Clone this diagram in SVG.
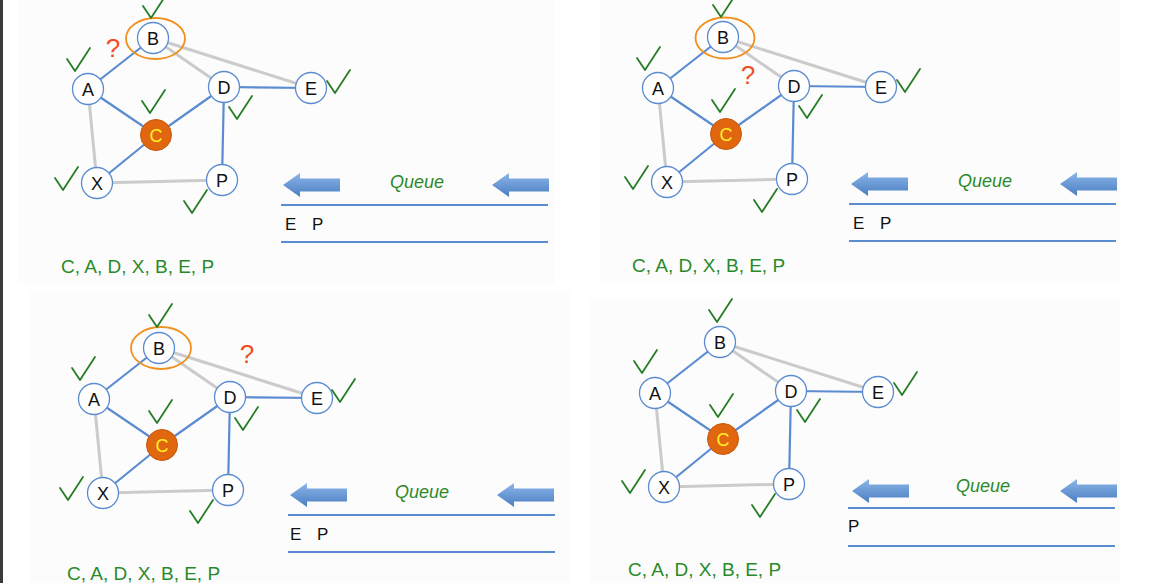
<svg xmlns="http://www.w3.org/2000/svg" xmlns:xlink="http://www.w3.org/1999/xlink" width="1152" height="583" viewBox="0 0 1152 583">
<style>
text{font-family:"Liberation Sans",Arial,sans-serif}
.nd{fill:#fff;stroke:#5b8bd0;stroke-width:1.3}
.lbl{font-size:18px;fill:#111;text-anchor:middle}
.cn{fill:#e0660f;stroke:#c8580a;stroke-width:1}
.cl{font-size:18px;fill:#ffef2a;text-anchor:middle}
.eb{stroke:#5b8bd0;stroke-width:2.2;fill:none}
.eg{stroke:#cbcbcb;stroke-width:3;fill:none}
.chk{fill:none;stroke:#267d26;stroke-width:1.8;stroke-linecap:round;stroke-linejoin:round}
.q{font-size:18px;font-style:italic;fill:#2a8a2a;text-anchor:middle}
.ql{stroke:#5b8bd0;stroke-width:2}
.ord{font-size:19px;fill:#2a8a2a}
.ep{font-size:17px;fill:#111;word-spacing:11px}
.qm{font-size:26px;fill:#f04e23;text-anchor:middle}
.ring{fill:none;stroke:#f0901e;stroke-width:1.8}
.bg{fill:#fcfcfc}
</style>
<defs>
<linearGradient id="ag" x1="0" y1="0" x2="0" y2="1">
<stop offset="0" stop-color="#8cb6ea"/>
<stop offset="1" stop-color="#4a7dc0"/>
</linearGradient>
<path id="arr" d="M0,0 L17,-12 L17,-6.5 L57,-6.5 L57,6.5 L17,6.5 L17,12 Z" fill="url(#ag)"/>
<path id="ck" class="chk" d="M-8,-12 L0,0 L15,-23"/>
</defs>
<rect width="1152" height="583" fill="#fff"/>
<rect class="bg" x="18" y="0" width="537" height="283"/>
<rect class="bg" x="600" y="0" width="520" height="281"/>
<rect class="bg" x="30" y="292" width="540" height="291"/>
<rect class="bg" x="590" y="300" width="530" height="283"/>
<rect x="0" y="0" width="3" height="583" fill="#3a3a3a"/>

<!-- Panel 1 -->
<g id="panel1">
<g id="p1-edges">
<line class="eg" x1="153" y1="38" x2="224" y2="87"/>
<line class="eg" x1="153" y1="38" x2="311" y2="88"/>
<line class="eg" x1="88" y1="89" x2="97" y2="183"/>
<line class="eg" x1="97" y1="183" x2="222" y2="180"/>
<line class="eb" x1="153" y1="38" x2="88" y2="89"/>
<line class="eb" x1="88" y1="89" x2="156" y2="135"/>
<line class="eb" x1="156" y1="135" x2="224" y2="87"/>
<line class="eb" x1="156" y1="135" x2="97" y2="183"/>
<line class="eb" x1="224" y1="87" x2="222" y2="180"/>
<line class="eb" x1="224" y1="87" x2="311" y2="88"/>
</g>
<g id="p1-B"><circle class="nd" cx="153" cy="38" r="15.5"/><text class="lbl" x="153" y="44.5">B</text></g>
<g id="p1-A"><circle class="nd" cx="88" cy="89" r="15.5"/><text class="lbl" x="88" y="95.5">A</text></g>
<g id="p1-D"><circle class="nd" cx="224" cy="87" r="15.5"/><text class="lbl" x="224" y="93.5">D</text></g>
<g id="p1-E"><circle class="nd" cx="311" cy="88" r="15.5"/><text class="lbl" x="311" y="94.5">E</text></g>
<g id="p1-C"><circle class="cn" cx="156" cy="135" r="15.5"/><text class="cl" x="156" y="141.5">C</text></g>
<g id="p1-X"><circle class="nd" cx="97" cy="183" r="15.5"/><text class="lbl" x="97" y="189.5">X</text></g>
<g id="p1-P"><circle class="nd" cx="222" cy="180" r="15.5"/><text class="lbl" x="222" y="186.5">P</text></g>
<ellipse class="ring" cx="155.5" cy="38.5" rx="29.5" ry="20.5"/>
<g id="p1-checks">
<use xlink:href="#ck" x="151" y="18"/>
<use xlink:href="#ck" x="75" y="71"/>
<use xlink:href="#ck" x="150" y="113"/>
<use xlink:href="#ck" x="237" y="119"/>
<use xlink:href="#ck" x="63" y="190"/>
<use xlink:href="#ck" x="192" y="213"/>
<use xlink:href="#ck" x="335" y="93"/>
</g>
<text class="qm" x="113" y="57">?</text>
<g id="p1-queue">
<use xlink:href="#arr" x="283" y="185"/>
<use xlink:href="#arr" x="492" y="185"/>
<text class="q" x="417" y="188">Queue</text>
<line class="ql" x1="281" y1="205" x2="548" y2="205"/>
<text class="ep" x="285" y="230">E P</text>
<line class="ql" x1="281" y1="242" x2="548" y2="242"/>
</g>
<text class="ord" x="61" y="273">C, A, D, X, B, E, P</text>
</g>

<!-- Panel 2 -->
<g id="panel2" transform="translate(570,-1)">
<g id="p2-edges">
<line class="eg" x1="153" y1="38" x2="224" y2="87"/>
<line class="eg" x1="153" y1="38" x2="311" y2="88"/>
<line class="eg" x1="88" y1="89" x2="97" y2="183"/>
<line class="eg" x1="97" y1="183" x2="222" y2="180"/>
<line class="eb" x1="153" y1="38" x2="88" y2="89"/>
<line class="eb" x1="88" y1="89" x2="156" y2="135"/>
<line class="eb" x1="156" y1="135" x2="224" y2="87"/>
<line class="eb" x1="156" y1="135" x2="97" y2="183"/>
<line class="eb" x1="224" y1="87" x2="222" y2="180"/>
<line class="eb" x1="224" y1="87" x2="311" y2="88"/>
</g>
<g id="p2-B"><circle class="nd" cx="153" cy="38" r="15.5"/><text class="lbl" x="153" y="44.5">B</text></g>
<g id="p2-A"><circle class="nd" cx="88" cy="89" r="15.5"/><text class="lbl" x="88" y="95.5">A</text></g>
<g id="p2-D"><circle class="nd" cx="224" cy="87" r="15.5"/><text class="lbl" x="224" y="93.5">D</text></g>
<g id="p2-E"><circle class="nd" cx="311" cy="88" r="15.5"/><text class="lbl" x="311" y="94.5">E</text></g>
<g id="p2-C"><circle class="cn" cx="156" cy="135" r="15.5"/><text class="cl" x="156" y="141.5">C</text></g>
<g id="p2-X"><circle class="nd" cx="97" cy="183" r="15.5"/><text class="lbl" x="97" y="189.5">X</text></g>
<g id="p2-P"><circle class="nd" cx="222" cy="180" r="15.5"/><text class="lbl" x="222" y="186.5">P</text></g>
<ellipse class="ring" cx="155" cy="39" rx="29.5" ry="20.5"/>
<g id="p2-checks">
<use xlink:href="#ck" x="151" y="18"/>
<use xlink:href="#ck" x="75" y="71"/>
<use xlink:href="#ck" x="150" y="113"/>
<use xlink:href="#ck" x="237" y="119"/>
<use xlink:href="#ck" x="63" y="190"/>
<use xlink:href="#ck" x="192" y="213"/>
<use xlink:href="#ck" x="335" y="93"/>
</g>
<text class="qm" x="178" y="85">?</text>
<g id="p2-queue">
<use xlink:href="#arr" x="281" y="185"/>
<use xlink:href="#arr" x="490" y="185"/>
<text class="q" x="415" y="188">Queue</text>
<line class="ql" x1="279" y1="205" x2="546" y2="205"/>
<text class="ep" x="283" y="230">E P</text>
<line class="ql" x1="279" y1="242" x2="546" y2="242"/>
</g>
<text class="ord" x="62" y="273">C, A, D, X, B, E, P</text>
</g>

<!-- Panel 3 -->
<g id="panel3" transform="translate(6,310)">
<g id="p3-edges">
<line class="eg" x1="153" y1="38" x2="224" y2="87"/>
<line class="eg" x1="153" y1="38" x2="311" y2="88"/>
<line class="eg" x1="88" y1="89" x2="97" y2="183"/>
<line class="eg" x1="97" y1="183" x2="222" y2="180"/>
<line class="eb" x1="153" y1="38" x2="88" y2="89"/>
<line class="eb" x1="88" y1="89" x2="156" y2="135"/>
<line class="eb" x1="156" y1="135" x2="224" y2="87"/>
<line class="eb" x1="156" y1="135" x2="97" y2="183"/>
<line class="eb" x1="224" y1="87" x2="222" y2="180"/>
<line class="eb" x1="224" y1="87" x2="311" y2="88"/>
</g>
<g id="p3-B"><circle class="nd" cx="153" cy="38" r="15.5"/><text class="lbl" x="153" y="44.5">B</text></g>
<g id="p3-A"><circle class="nd" cx="88" cy="89" r="15.5"/><text class="lbl" x="88" y="95.5">A</text></g>
<g id="p3-D"><circle class="nd" cx="224" cy="87" r="15.5"/><text class="lbl" x="224" y="93.5">D</text></g>
<g id="p3-E"><circle class="nd" cx="311" cy="88" r="15.5"/><text class="lbl" x="311" y="94.5">E</text></g>
<g id="p3-C"><circle class="cn" cx="156" cy="135" r="15.5"/><text class="cl" x="156" y="141.5">C</text></g>
<g id="p3-X"><circle class="nd" cx="97" cy="183" r="15.5"/><text class="lbl" x="97" y="189.5">X</text></g>
<g id="p3-P"><circle class="nd" cx="222" cy="180" r="15.5"/><text class="lbl" x="222" y="186.5">P</text></g>
<ellipse class="ring" cx="155" cy="38" rx="30" ry="21"/>
<g id="p3-checks">
<use xlink:href="#ck" x="151" y="17"/>
<use xlink:href="#ck" x="74" y="70"/>
<use xlink:href="#ck" x="151" y="113"/>
<use xlink:href="#ck" x="237" y="120"/>
<use xlink:href="#ck" x="62" y="190"/>
<use xlink:href="#ck" x="192" y="213"/>
<use xlink:href="#ck" x="334" y="92"/>
</g>
<text class="qm" x="241" y="53">?</text>
<g id="p3-queue">
<use xlink:href="#arr" x="284" y="185"/>
<use xlink:href="#arr" x="491" y="185"/>
<text class="q" x="416" y="188">Queue</text>
<line class="ql" x1="282" y1="205" x2="549" y2="205"/>
<text class="ep" x="284" y="230">E P</text>
<line class="ql" x1="282" y1="242" x2="549" y2="242"/>
</g>
<text class="ord" x="61" y="270">C, A, D, X, B, E, P</text>
</g>

<!-- Panel 4 -->
<g id="panel4" transform="translate(567,304)">
<g id="p4-edges">
<line class="eg" x1="153" y1="38" x2="224" y2="87"/>
<line class="eg" x1="153" y1="38" x2="311" y2="88"/>
<line class="eg" x1="88" y1="89" x2="97" y2="183"/>
<line class="eg" x1="97" y1="183" x2="222" y2="180"/>
<line class="eb" x1="153" y1="38" x2="88" y2="89"/>
<line class="eb" x1="88" y1="89" x2="156" y2="135"/>
<line class="eb" x1="156" y1="135" x2="224" y2="87"/>
<line class="eb" x1="156" y1="135" x2="97" y2="183"/>
<line class="eb" x1="224" y1="87" x2="222" y2="180"/>
<line class="eb" x1="224" y1="87" x2="311" y2="88"/>
</g>
<g id="p4-B"><circle class="nd" cx="153" cy="38" r="15.5"/><text class="lbl" x="153" y="44.5">B</text></g>
<g id="p4-A"><circle class="nd" cx="88" cy="89" r="15.5"/><text class="lbl" x="88" y="95.5">A</text></g>
<g id="p4-D"><circle class="nd" cx="224" cy="87" r="15.5"/><text class="lbl" x="224" y="93.5">D</text></g>
<g id="p4-E"><circle class="nd" cx="311" cy="88" r="15.5"/><text class="lbl" x="311" y="94.5">E</text></g>
<g id="p4-C"><circle class="cn" cx="156" cy="135" r="15.5"/><text class="cl" x="156" y="141.5">C</text></g>
<g id="p4-X"><circle class="nd" cx="97" cy="183" r="15.5"/><text class="lbl" x="97" y="189.5">X</text></g>
<g id="p4-P"><circle class="nd" cx="222" cy="180" r="15.5"/><text class="lbl" x="222" y="186.5">P</text></g>
<g id="p4-checks">
<use xlink:href="#ck" x="150" y="18"/>
<use xlink:href="#ck" x="75" y="69"/>
<use xlink:href="#ck" x="151" y="113"/>
<use xlink:href="#ck" x="238" y="118"/>
<use xlink:href="#ck" x="63" y="189"/>
<use xlink:href="#ck" x="193" y="213"/>
<use xlink:href="#ck" x="335" y="91"/>
</g>
<g id="p4-queue">
<use xlink:href="#arr" x="285" y="187"/>
<use xlink:href="#arr" x="493" y="187"/>
<text class="q" x="416" y="188">Queue</text>
<line class="ql" x1="281" y1="204" x2="548" y2="204"/>
<text class="ep" x="281" y="228">P</text>
<line class="ql" x1="281" y1="242" x2="548" y2="242"/>
</g>
<text class="ord" x="61" y="272">C, A, D, X, B, E, P</text>
</g>
</svg>
